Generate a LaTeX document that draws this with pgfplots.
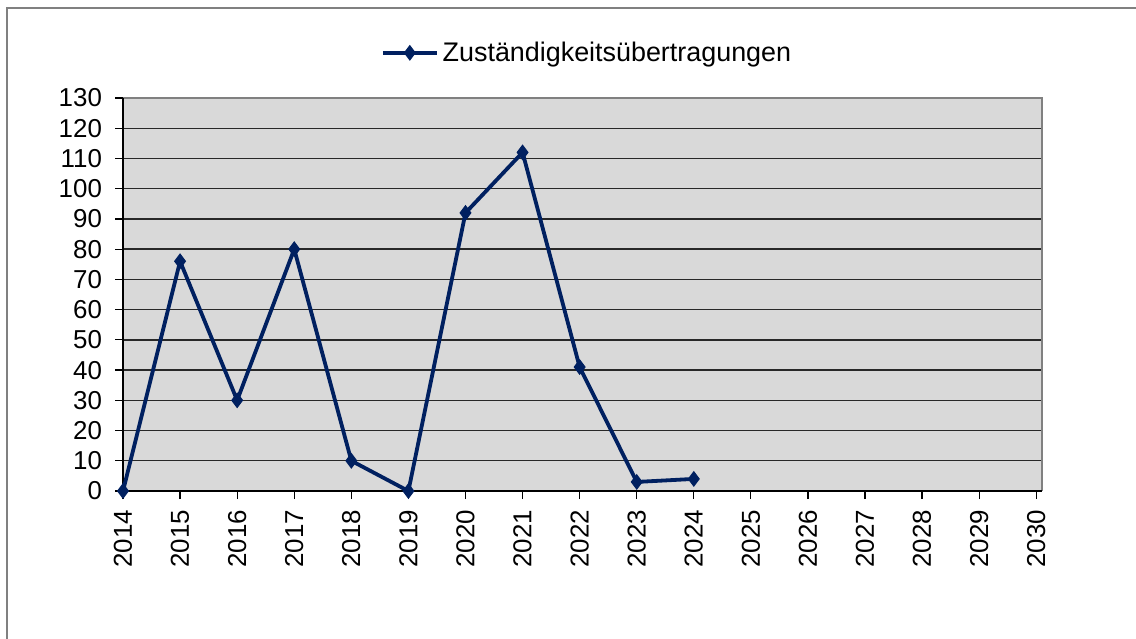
\documentclass[border=0pt]{standalone}
\usepackage{pgfplots}
\pgfplotsset{compat=1.18}
\usepackage{fontspec}
\setmainfont{Liberation Sans}
\definecolor{navy}{RGB}{0,32,96}
\definecolor{plotbg}{RGB}{217,217,217}
\definecolor{gridc}{RGB}{40,40,40}
\begin{document}
\begin{tikzpicture}[x=1bp,y=1bp]
\useasboundingbox (-61.5,-73.5) rectangle (506.5,245.5);
\draw[color={rgb,255:red,128;green,128;blue,128}, line width=0.9bp] (-58,-80) -- (-58,241.5) -- (515,241.5);
\begin{axis}[
  at={(0,0)}, anchor=origin,
  scale only axis,
  width=459.5bp, height=196.5bp,
  xmin=2014, xmax=2030.1,
  ymin=0, ymax=130,
  xtick={2014,...,2030},
  ytick={0,10,...,130},
  xtick pos=bottom, ytick pos=left,
  xticklabel style={rotate=90, anchor=east, font=\fontsize{13}{13}\selectfont, /pgf/number format/1000 sep={}},
  yticklabel style={font=\fontsize{13}{13}\selectfont},
  /pgf/number format/assume math mode=true,
  /pgf/number format/1000 sep={},
  tick align=outside,
  major tick length=4bp,
  tick style={black, line width=0.6bp},
  axis background/.style={fill=plotbg},
  axis line style={draw=none},
  ymajorgrids,
  grid style={gridc, line width=0.7bp},
  xticklabel shift=2bp,
  yticklabel shift=3bp,
  clip=false,
  legend style={at={(0.506,1.115)}, anchor=center, draw=none, fill=none,
    font=\fontsize{13.5}{14}\selectfont, legend cell align=left,
    /tikz/every even column/.append style={column sep=2bp}},
  legend image code/.code={
    \draw[#1, mark=none] (0bp,0bp) -- (27bp,0bp);
    \draw[#1, only marks] plot coordinates {(13.5bp,0bp)};
  },
]
\draw[color={rgb,255:red,128;green,128;blue,128}, line width=1bp] (rel axis cs:0,1) -- (rel axis cs:1,1) -- (rel axis cs:1,0);
\draw[black, line width=0.8bp] (rel axis cs:0,0) -- (rel axis cs:0,1);
\draw[black, line width=0.8bp] (rel axis cs:0,0) -- (rel axis cs:1,0);
\addplot[navy, line width=1.9bp, mark=diamond*, mark size=3.6bp, mark options={fill=navy, draw=navy, line width=0.5bp}]
coordinates {(2014,0) (2015,76) (2016,30) (2017,80) (2018,10) (2019,0) (2020,92) (2021,112) (2022,41) (2023,3) (2024,4)};
\addlegendentry{Zuständigkeitsübertragungen}
\end{axis}
\end{tikzpicture}
\end{document}
